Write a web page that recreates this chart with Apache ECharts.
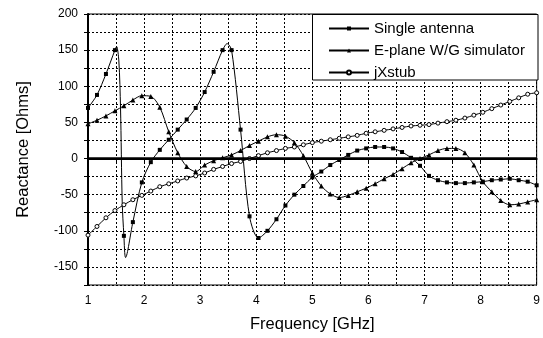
<!DOCTYPE html>
<html>
<head>
<meta charset="utf-8">
<script src="https://cdn.jsdelivr.net/npm/echarts@6/dist/echarts.min.js"></script>
<style>
html,body{margin:0;padding:0;background:#fff;}
#chart{width:543px;height:338px;}
</style>
</head>
<body>
<div id="chart"></div>
<script>
// Frequencies of the marker points (GHz)
const freq = [1.00,1.16,1.32,1.48,1.64,1.80,1.96,2.12,2.28,2.44,2.60,2.76,2.92,3.08,3.24,3.40,3.56,3.72,3.88,4.04,4.20,4.36,4.52,4.68,4.84,5.00,5.16,5.32,5.48,5.64,5.80,5.96,6.12,6.28,6.44,6.60,6.76,6.92,7.08,7.24,7.40,7.56,7.72,7.88,8.04,8.20,8.36,8.52,8.68,8.84,9.00];

// Reactance values (Ohms) at the marker points
const singleAntenna = [70,88,117,150,-107,-88,-33,-5,12,26,40,54,70,92,120,150,150,40,-80,-110,-100,-84,-65,-50,-38,-26,-18,-9,-2,5,11,14,16,16,14,9,1,-10,-24,-30,-33,-34,-34,-33,-32,-30,-29,-28,-30,-32,-37];
const ePlane = [48,53,59,66,73,81,87,86,71,37,8,-11,-18,-9,-3,1,5,11,18,24,30,33,31,22,4,-20,-38,-49,-54,-51,-46,-41,-35,-28,-22,-14,-6,0,5,11,14,14,8,-9,-32,-46,-58,-64,-63,-60,-57];
const jXstub = [-106,-94,-82,-72,-64,-57,-51,-45,-39,-35,-31,-27,-24,-20,-15,-11,-7,-4,0,4,8,11,14,16,19,22,24,26,28,30,32,35,37,39,41,43,45,46,47,49,51,53,56,60,64,69,74,79,84,89,91];

// Extra curve points between markers (peaks / sharp turns), drawn without markers
const singleExtraF = [1.51,1.55,1.58,1.61,1.67,3.48];
const singleExtraV = [155,135,70,-60,-137,159];

// Axis ticks
const xTicks = [1,2,3,4,5,6,7,8,9];
const yTicks = [-150,-100,-50,0,50,100,150,200];

const seriesNames = ['Single antenna','E-plane W/G simulator','jXstub'];

function build(fs, vs, exF, exV) {
  const pts = fs.map((f, i) => ({ value: [f, vs[i]] }));
  if (exF) exF.forEach((f, i) => pts.push({ value: [f, exV[i]], symbol: 'none' }));
  pts.sort((a, b) => a.value[0] - b.value[0]);
  return pts;
}

const FONT = 'Liberation Sans, Arial, sans-serif';
const chart = echarts.init(document.getElementById('chart'), null, { renderer: 'canvas' });

const option = {
  animation: false,
  backgroundColor: '#fff',
  grid: { left: 88, right: 5, top: 14, bottom: 51, show: true, borderColor: '#000', borderWidth: 1, containLabel: false },
  graphic: [{
    type: 'rect', z: 10,
    shape: { x: 312.5, y: 14.5, width: 225.5, height: 65.5 },
    style: { fill: '#fff', stroke: '#000', lineWidth: 1 }
  }],
  legend: {
    z: 20,
    orient: 'vertical',
    left: 328, top: 21,
    padding: 0,
    itemWidth: 40, itemHeight: 5, itemGap: 7,
    textStyle: { fontFamily: FONT, fontSize: 15, color: '#000', padding: [0,0,0,0] },
    data: seriesNames
  },
  xAxis: {
    type: 'value', min: 1, max: 9, interval: 0.5,
    name: 'Frequency [GHz]', nameLocation: 'middle', nameGap: 31,
    nameTextStyle: { fontFamily: FONT, fontSize: 16.5, color: '#000' },
    axisLine: { lineStyle: { color: '#000', width: 2 } },
    axisTick: { inside: false, length: 4, lineStyle: { color: '#000' } },
    axisLabel: {
      fontFamily: FONT, fontSize: 12, color: '#000', margin: 10,
      formatter: v => xTicks.indexOf(v) >= 0 ? String(v) : ''
    },
    splitLine: { show: true, lineStyle: { color: '#000', type: [2, 2], width: 1 } }
  },
  yAxis: {
    type: 'value', min: -175, max: 200, interval: 25,
    name: 'Reactance [Ohms]', nameLocation: 'middle', nameGap: 56, nameRotate: 90,
    nameTextStyle: { fontFamily: FONT, fontSize: 16.5, color: '#000' },
    axisLine: { show: true, lineStyle: { color: '#000', width: 2 } },
    axisTick: { show: true, inside: false, length: 4, lineStyle: { color: '#000' } },
    axisLabel: {
      fontFamily: FONT, fontSize: 12, color: '#000', margin: 10,
      formatter: v => yTicks.indexOf(v) >= 0 ? String(v) : ''
    },
    splitLine: { show: true, lineStyle: { color: '#000', type: [2, 2], width: 1 } }
  },
  series: [
    {
      name: seriesNames[0], type: 'line', smooth: 0.3,
      data: build(freq, singleAntenna, singleExtraF, singleExtraV),
      symbol: 'rect', symbolSize: 4,
      lineStyle: { color: '#000', width: 1 },
      itemStyle: { color: '#000' },
      markLine: {
        silent: true, symbol: 'none', label: { show: false },
        lineStyle: { color: '#000', width: 2.5, type: 'solid' },
        data: [{ yAxis: 0 }]
      }
    },
    {
      name: seriesNames[1], type: 'line', smooth: 0.3,
      data: build(freq, ePlane),
      symbol: 'triangle', symbolSize: 5,
      lineStyle: { color: '#000', width: 1 },
      itemStyle: { color: '#000' }
    },
    {
      name: seriesNames[2], type: 'line', smooth: 0.3,
      data: build(freq, jXstub),
      symbol: 'circle', symbolSize: 4,
      lineStyle: { color: '#000', width: 1 },
      itemStyle: { color: '#fff', borderColor: '#000', borderWidth: 1 }
    }
  ]
};
chart.setOption(option);
</script>
</body>
</html>
